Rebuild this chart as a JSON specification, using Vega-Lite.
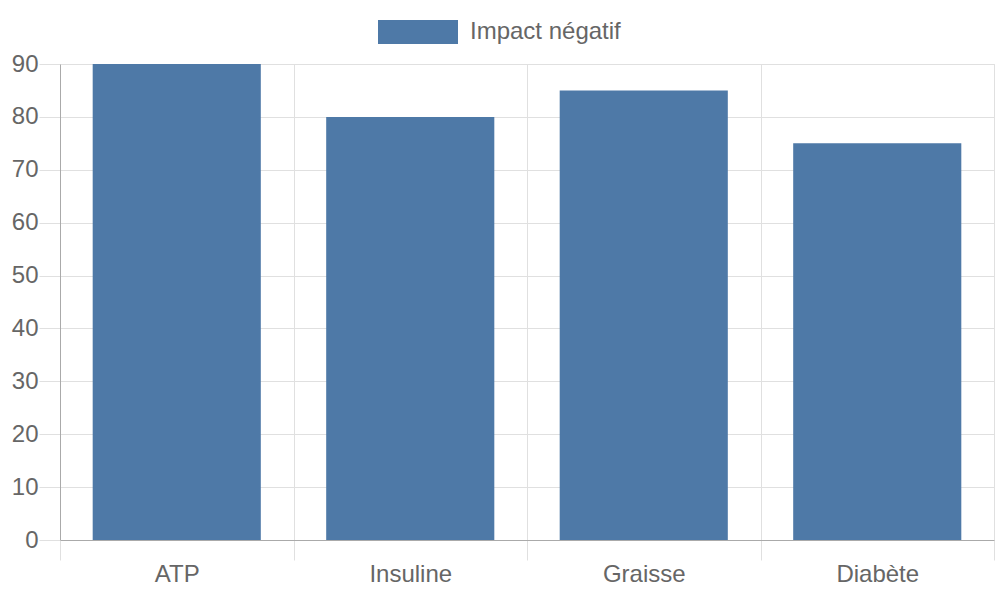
{
  "$schema": "https://vega.github.io/schema/vega-lite/v6.json",
  "width": 934,
  "height": 476,
  "autosize": {"type": "none"},
  "padding": {"left": 60, "top": 64, "right": 6, "bottom": 60},
  "background": "white",
  "data": {
    "values": [
      {"facteur": "ATP", "valeur": 90, "serie": "Impact négatif"},
      {"facteur": "Insuline", "valeur": 80, "serie": "Impact négatif"},
      {"facteur": "Graisse", "valeur": 85, "serie": "Impact négatif"},
      {"facteur": "Diabète", "valeur": 75, "serie": "Impact négatif"}
    ]
  },
  "mark": {"type": "bar", "width": {"band": 0.72}},
  "encoding": {
    "x": {
      "field": "facteur",
      "type": "nominal",
      "sort": null,
      "scale": {"paddingInner": 0, "paddingOuter": 0},
      "axis": {
        "title": null,
        "labelAngle": 0,
        "tickBand": "extent",
        "tickSize": 20,
        "tickColor": "#e0e0e0",
        "grid": true,
        "gridColor": "#e0e0e0",
        "domainColor": "#aaaaaa",
        "labelPadding": 2,
        "labelFontSize": 24,
        "labelColor": "#666666",
        "labelFont": "Liberation Sans"
      }
    },
    "y": {
      "field": "valeur",
      "type": "quantitative",
      "scale": {"domain": [0, 90], "nice": false},
      "axis": {
        "title": null,
        "values": [0, 10, 20, 30, 40, 50, 60, 70, 80, 90],
        "tickSize": 21,
        "tickColor": "#e0e0e0",
        "gridColor": "#e0e0e0",
        "domainColor": "#aaaaaa",
        "labelPadding": 1,
        "labelFontSize": 24,
        "labelColor": "#666666",
        "labelFont": "Liberation Sans"
      }
    },
    "color": {
      "field": "serie",
      "type": "nominal",
      "scale": {"range": ["#4e79a7"]},
      "legend": {
        "title": null,
        "orient": "none",
        "legendX": 318,
        "legendY": -72,
        "symbolType": "M-1,-0.3H1V0.3H-1Z",
        "symbolSize": 6400,
        "symbolStrokeWidth": 0,
        "symbolOpacity": 1,
        "labelOffset": 12,
        "labelFontSize": 24,
        "labelColor": "#666666",
        "labelFont": "Liberation Sans"
      }
    }
  },
  "config": {
    "view": {"stroke": "#e0e0e0"}
  }
}
